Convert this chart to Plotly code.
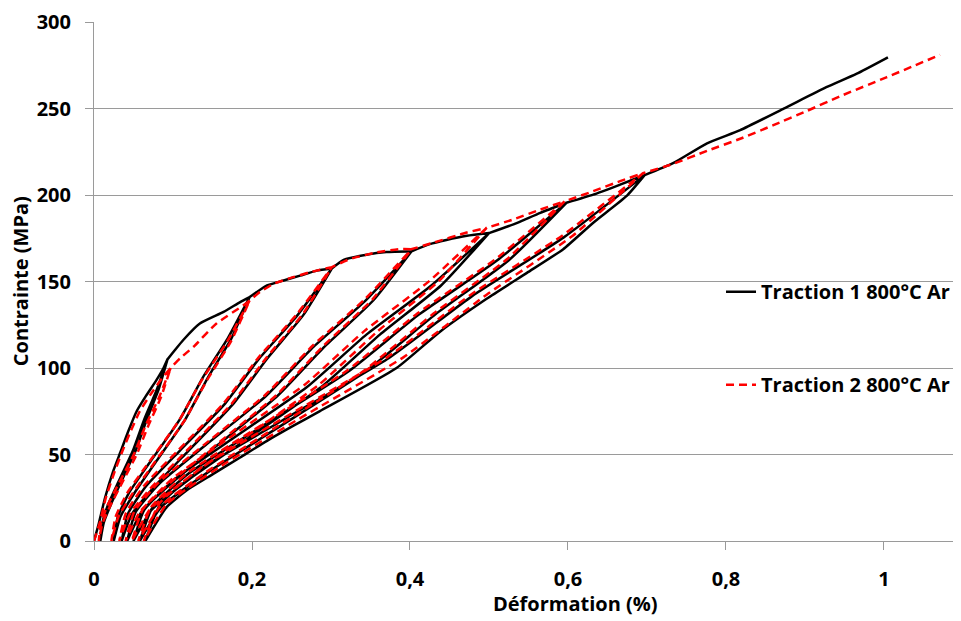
import plotly.graph_objects as go

# ---------------- DATA ----------------
series_names = ["Traction 1 800°C Ar", "Traction 2 800°C Ar"]
x_tick_vals = [0, 0.2, 0.4, 0.6, 0.8, 1]
x_tick_text = ["0", "0,2", "0,4", "0,6", "0,8", "1"]
y_tick_vals = [0, 50, 100, 150, 200, 250, 300]
y_tick_text = ["0", "50", "100", "150", "200", "250", "300"]

# ---- Traction 1 (black) ----
# monotonic (envelope) segments leading to each cycle peak
t1_env_strain = [
    [0, 0.006, 0.014, 0.024, 0.034, 0.043, 0.054, 0.066, 0.079, 0.088, 0.093],
    [0.093, 0.1025, 0.113, 0.134, 0.164, 0.185, 0.197],
    [0.197, 0.206, 0.219, 0.24, 0.261, 0.282, 0.301],
    [0.301, 0.316, 0.345, 0.37, 0.402],
    [0.402, 0.425, 0.446, 0.472, 0.5],
    [0.5, 0.531, 0.565, 0.598],
    [0.598, 0.632, 0.666, 0.697],
]
t1_env_stress = [
    [0, 10, 25, 40, 52, 63, 75, 84, 93, 100, 105],
    [105, 110.4, 116.2, 125.7, 132.4, 138.1, 141],
    [141, 143.9, 147.7, 150.6, 153.4, 156.3, 157.5],
    [157.5, 162.5, 165.5, 167, 167.5],
    [167.5, 171.6, 174, 176.4, 178],
    [178, 183, 189.7, 195.5],
    [195.5, 200.2, 206, 211.5],
]
# unloading branches (listed from residual strain up to the peak)
t1_unload_strain = [
    [0.008, 0.0123, 0.0213, 0.0349, 0.0529, 0.0669, 0.0815, 0.093],
    [0.025, 0.0336, 0.0518, 0.0795, 0.1158, 0.1442, 0.1738, 0.197],
    [0.035, 0.0483, 0.0765, 0.1193, 0.1754, 0.2193, 0.2651, 0.301],
    [0.042, 0.06, 0.0982, 0.1561, 0.2321, 0.2915, 0.3534, 0.402],
    [0.05, 0.0725, 0.1202, 0.1927, 0.2876, 0.3619, 0.4393, 0.5],
    [0.058, 0.085, 0.1422, 0.2292, 0.3431, 0.4322, 0.5251, 0.598],
    [0.065, 0.092, 0.117, 0.151, 0.185, 0.219, 0.252, 0.286, 0.383, 0.438, 0.497, 0.548, 0.594, 0.632, 0.674, 0.697],
]
t1_unload_stress = [
    [0, 10.5, 21, 34.7, 52.5, 70.4, 87.2, 105],
    [0, 14.1, 28.2, 46.5, 70.5, 94.5, 117, 141],
    [0, 15.8, 31.5, 52, 78.8, 105.5, 130.7, 157.5],
    [0, 16.8, 33.5, 55.3, 83.8, 112.2, 139, 167.5],
    [0, 17.8, 35.6, 58.7, 89, 119.3, 147.7, 178],
    [0, 19.6, 39.1, 64.5, 97.8, 131, 162.3, 195.5],
    [0, 19.6, 29.2, 38.8, 48.3, 57.9, 66.5, 75.1, 100, 121, 140, 155, 168.7, 184, 199.3, 211.5],
]
# reloading branches (from residual strain back to the peak)
t1_reload_strain = [
    [0.008, 0.0106, 0.0178, 0.0314, 0.0495, 0.0637, 0.0792, 0.093],
    [0.025, 0.0302, 0.0448, 0.0723, 0.1089, 0.1377, 0.1691, 0.197],
    [0.035, 0.043, 0.0656, 0.1082, 0.1648, 0.2092, 0.2579, 0.301],
    [0.042, 0.0528, 0.0834, 0.141, 0.2177, 0.2778, 0.3437, 0.402],
    [0.05, 0.0635, 0.1018, 0.1738, 0.2696, 0.3448, 0.4271, 0.5],
    [0.058, 0.0742, 0.1201, 0.2065, 0.3215, 0.4117, 0.5105, 0.598],
    [0.065, 0.084, 0.1377, 0.2388, 0.3734, 0.479, 0.5946, 0.697],
]
t1_reload_stress = [
    [0, 10.5, 21, 34.7, 52.5, 70.4, 87.2, 105],
    [0, 14.1, 28.2, 46.5, 70.5, 94.5, 117, 141],
    [0, 15.8, 31.5, 52, 78.8, 105.5, 130.7, 157.5],
    [0, 16.8, 33.5, 55.3, 83.8, 112.2, 139, 167.5],
    [0, 17.8, 35.6, 58.7, 89, 119.3, 147.7, 178],
    [0, 19.6, 39.1, 64.5, 97.8, 131, 162.3, 195.5],
    [0, 21.2, 42.3, 69.8, 105.8, 141.7, 175.5, 211.5],
]
t1_final_strain = [0.697, 0.733, 0.776, 0.818, 0.873, 0.927, 0.965, 1.005]
t1_final_stress = [211.5, 218.4, 229.9, 237.5, 249.9, 262.3, 270, 279.6]

# ---- Traction 2 (red dashed) ----
t2_env_strain = [
    [0, 0.007, 0.015, 0.026, 0.036, 0.046, 0.058, 0.072, 0.086, 0.097],
    [0.097, 0.109, 0.126, 0.155, 0.189, 0.197],
    [0.197, 0.21, 0.227, 0.252, 0.273, 0.301],
    [0.301, 0.324, 0.358, 0.387, 0.402],
    [0.402, 0.43, 0.472, 0.497],
    [0.497, 0.531, 0.565, 0.596],
    [0.596, 0.632, 0.666, 0.695],
]
t2_env_stress = [
    [0, 10, 25, 40, 52, 63, 75, 85, 94, 100],
    [100, 105.6, 112.3, 125.7, 136.2, 139],
    [139, 143.9, 148.6, 152.5, 155.3, 158.3],
    [158.3, 163, 166.8, 168.7, 168.7],
    [168.7, 172.5, 178.3, 181],
    [181, 185.9, 191.6, 196.4],
    [196.4, 202.2, 208, 212.6],
]
t2_loop_stress = [
    [0, 10, 20, 33, 50, 67, 83, 100],
    [0, 13.9, 27.8, 45.9, 69.5, 93.1, 115.4, 139],
    [0, 15.8, 31.7, 52.2, 79.2, 106, 131.4, 158.3],
    [0, 16.9, 33.7, 55.7, 84.4, 113, 140, 168.7],
    [0, 18.1, 36.2, 59.7, 90.5, 121.3, 150.2, 181],
    [0, 19.6, 39.3, 64.8, 98.2, 131.6, 163, 196.4],
    [0, 21.3, 42.5, 70.2, 106.3, 142.4, 176.5, 212.6],
]
t2_unload_strain = [
    [0.006, 0.0106, 0.0202, 0.0348, 0.054, 0.0691, 0.0847, 0.097],
    [0.022, 0.0308, 0.0493, 0.0775, 0.1144, 0.1433, 0.1734, 0.197],
    [0.032, 0.0455, 0.074, 0.1173, 0.174, 0.2184, 0.2647, 0.301],
    [0.04, 0.0581, 0.0965, 0.1548, 0.2311, 0.2909, 0.3531, 0.402],
    [0.048, 0.0705, 0.118, 0.1903, 0.2851, 0.3592, 0.4364, 0.497],
    [0.056, 0.083, 0.1402, 0.2272, 0.3411, 0.4302, 0.5231, 0.596],
    [0.063, 0.092, 0.158, 0.258, 0.392, 0.497, 0.606, 0.695],
]
t2_reload_strain = [
    [0.006, 0.0087, 0.0165, 0.031, 0.0504, 0.0656, 0.0823, 0.097],
    [0.022, 0.0273, 0.0421, 0.0701, 0.1074, 0.1366, 0.1687, 0.197],
    [0.032, 0.0401, 0.0629, 0.106, 0.1633, 0.2082, 0.2574, 0.301],
    [0.04, 0.0509, 0.0816, 0.1396, 0.2167, 0.2771, 0.3434, 0.402],
    [0.048, 0.0615, 0.0996, 0.1715, 0.2671, 0.3421, 0.4243, 0.497],
    [0.056, 0.0722, 0.1181, 0.2045, 0.3195, 0.4097, 0.5085, 0.596],
    [0.063, 0.082, 0.1357, 0.2368, 0.3714, 0.477, 0.5926, 0.695],
]
t2_final_strain = [0.695, 0.733, 0.776, 0.818, 0.86, 0.902, 0.944, 1.003, 1.071]
t2_final_stress = [212.6, 218, 225.5, 232.5, 240.4, 248.5, 257, 268, 281]


# ---------------- build the test paths ----------------
def build_path(env_x, env_y, un_x, un_y, re_x, re_y, fin_x, fin_y):
    xs, ys = [], []
    for i in range(len(env_x)):
        xs += env_x[i]
        ys += env_y[i]
        xs += un_x[i][::-1]          # unloading: peak -> residual
        ys += un_y[i][::-1]
        xs += re_x[i]                # reloading: residual -> peak
        ys += re_y[i]
    xs += fin_x
    ys += fin_y
    return xs, ys


x1, y1 = build_path(t1_env_strain, t1_env_stress, t1_unload_strain, t1_unload_stress,
                    t1_reload_strain, t1_reload_stress, t1_final_strain, t1_final_stress)
x2, y2 = build_path(t2_env_strain, t2_env_stress, t2_unload_strain, t2_loop_stress,
                    t2_reload_strain, t2_loop_stress, t2_final_strain, t2_final_stress)

FONT = "Open Sans, Lato, sans-serif"
GRID = "#9a9a9a"
BOLD = dict(family=FONT, size=20, color="black", weight="bold")

fig = go.Figure()
fig.add_trace(go.Scatter(x=x1, y=y1, mode="lines", name=series_names[0], legendgroup="a",
                         line=dict(color="#000000", width=2.5, shape="spline", smoothing=0.5)))
fig.add_trace(go.Scatter(x=x2, y=y2, mode="lines", name=series_names[1], legendgroup="b",
                         line=dict(color="#ff0000", width=2.5, dash="8px,5px",
                                   shape="spline", smoothing=0.5)))

# the page body adds an 8 px offset, so the figure is 8 px smaller than the window
fig.update_layout(
    width=953, height=613,
    margin=dict(l=86, r=0, t=10, b=80),
    paper_bgcolor="white", plot_bgcolor="white",
    showlegend=True,
    legend=dict(x=0.7232, xanchor="left", y=0.518, yanchor="top",
                traceorder="grouped", tracegroupgap=64, itemwidth=30,
                bgcolor="rgba(0,0,0,0)", font=BOLD),
    font=dict(family=FONT, color="black"),
)
fig.update_xaxes(range=[0, 1.0975], tickmode="array", tickvals=x_tick_vals, ticktext=x_tick_text,
                 showgrid=False, zeroline=False, showline=True, linecolor=GRID, linewidth=1,
                 ticks="outside", ticklen=8, tickcolor=GRID, tickwidth=1, ticklabelstandoff=12,
                 ticklabeloverflow="allow", tickfont=BOLD)
fig.update_yaxes(range=[0, 300], tickmode="array", tickvals=y_tick_vals, ticktext=y_tick_text,
                 showgrid=True, gridcolor=GRID, gridwidth=1, zeroline=False,
                 showline=True, linecolor=GRID, linewidth=1,
                 ticks="outside", ticklen=8, tickcolor=GRID, tickwidth=1, ticklabelstandoff=10,
                 ticklabeloverflow="allow", tickfont=BOLD)

fig.add_annotation(text="Contrainte (MPa)", textangle=-90, xref="paper", yref="paper",
                   x=-0.0845, y=0.5, xanchor="center", yanchor="middle", showarrow=False,
                   font=BOLD)
fig.add_annotation(text="Déformation (%)", xref="paper", yref="paper",
                   x=0.5548, y=-0.1206, xanchor="center", yanchor="middle", showarrow=False,
                   font=BOLD)

fig.write_html("out.html")
